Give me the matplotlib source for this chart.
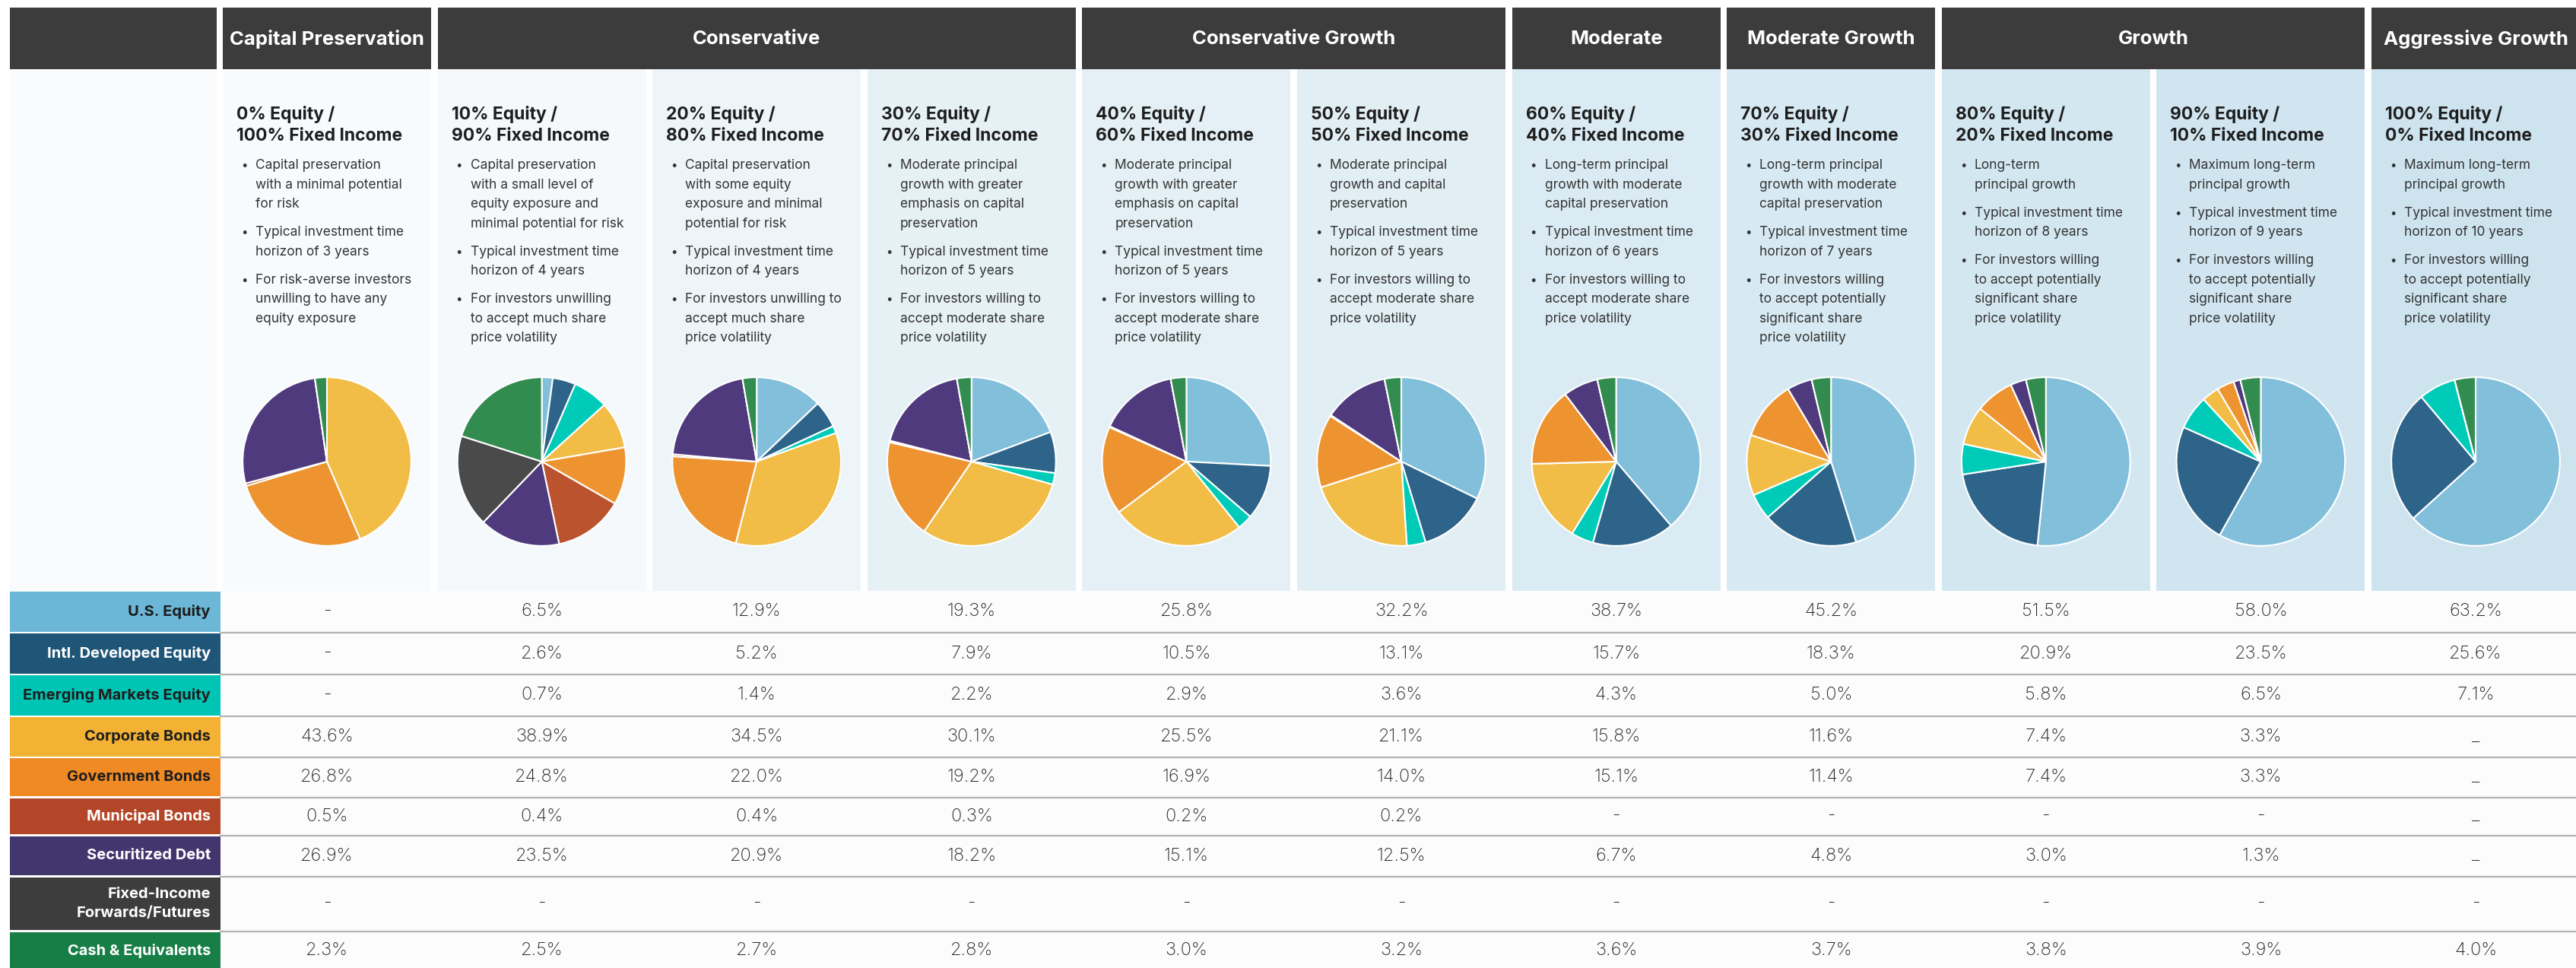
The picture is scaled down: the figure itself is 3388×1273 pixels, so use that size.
import matplotlib
matplotlib.use('Agg')
import matplotlib.pyplot as plt
from matplotlib.patches import Rectangle

plt.rcParams['font.family'] = ['Inter', 'DejaVu Sans']

# --- data ---
groups = ['Capital Preservation', 'Conservative', 'Conservative Growth', 'Moderate',
          'Moderate Growth', 'Growth', 'Aggressive Growth']
group_span = [(0, 0), (1, 3), (4, 5), (6, 6), (7, 7), (8, 9), (10, 10)]

titles = ['0% Equity /\n100% Fixed Income', '10% Equity /\n90% Fixed Income',
          '20% Equity /\n80% Fixed Income', '30% Equity /\n70% Fixed Income',
          '40% Equity /\n60% Fixed Income', '50% Equity /\n50% Fixed Income',
          '60% Equity /\n40% Fixed Income', '70% Equity /\n30% Fixed Income',
          '80% Equity /\n20% Fixed Income', '90% Equity /\n10% Fixed Income',
          '100% Equity /\n0% Fixed Income']

bullets = [
    ['Capital preservation\nwith a minimal potential\nfor risk',
     'Typical investment time\nhorizon of 3 years',
     'For risk-averse investors\nunwilling to have any\nequity exposure'],
    ['Capital preservation\nwith a small level of\nequity exposure and\nminimal potential for risk',
     'Typical investment time\nhorizon of 4 years',
     'For investors unwilling\nto accept much share\nprice volatility'],
    ['Capital preservation\nwith some equity\nexposure and minimal\npotential for risk',
     'Typical investment time\nhorizon of 4 years',
     'For investors unwilling to\naccept much share\nprice volatility'],
    ['Moderate principal\ngrowth with greater\nemphasis on capital\npreservation',
     'Typical investment time\nhorizon of 5 years',
     'For investors willing to\naccept moderate share\nprice volatility'],
    ['Moderate principal\ngrowth with greater\nemphasis on capital\npreservation',
     'Typical investment time\nhorizon of 5 years',
     'For investors willing to\naccept moderate share\nprice volatility'],
    ['Moderate principal\ngrowth and capital\npreservation',
     'Typical investment time\nhorizon of 5 years',
     'For investors willing to\naccept moderate share\nprice volatility'],
    ['Long-term principal\ngrowth with moderate\ncapital preservation',
     'Typical investment time\nhorizon of 6 years',
     'For investors willing to\naccept moderate share\nprice volatility'],
    ['Long-term principal\ngrowth with moderate\ncapital preservation',
     'Typical investment time\nhorizon of 7 years',
     'For investors willing\nto accept potentially\nsignificant share\nprice volatility'],
    ['Long-term\nprincipal growth',
     'Typical investment time\nhorizon of 8 years',
     'For investors willing\nto accept potentially\nsignificant share\nprice volatility'],
    ['Maximum long-term\nprincipal growth',
     'Typical investment time\nhorizon of 9 years',
     'For investors willing\nto accept potentially\nsignificant share\nprice volatility'],
    ['Maximum long-term\nprincipal growth',
     'Typical investment time\nhorizon of 10 years',
     'For investors willing\nto accept potentially\nsignificant share\nprice volatility'],
]

assets = ['U.S. Equity', 'Intl. Developed Equity', 'Emerging Markets Equity', 'Corporate Bonds',
          'Government Bonds', 'Municipal Bonds', 'Securitized Debt',
          'Fixed-Income\nForwards/Futures', 'Cash & Equivalents']

us_equity = ['-', '6.5%', '12.9%', '19.3%', '25.8%', '32.2%', '38.7%', '45.2%', '51.5%', '58.0%', '63.2%']
intl_equity = ['-', '2.6%', '5.2%', '7.9%', '10.5%', '13.1%', '15.7%', '18.3%', '20.9%', '23.5%', '25.6%']
em_equity = ['-', '0.7%', '1.4%', '2.2%', '2.9%', '3.6%', '4.3%', '5.0%', '5.8%', '6.5%', '7.1%']
corporate = ['43.6%', '38.9%', '34.5%', '30.1%', '25.5%', '21.1%', '15.8%', '11.6%', '7.4%', '3.3%', '_']
government = ['26.8%', '24.8%', '22.0%', '19.2%', '16.9%', '14.0%', '15.1%', '11.4%', '7.4%', '3.3%', '_']
municipal = ['0.5%', '0.4%', '0.4%', '0.3%', '0.2%', '0.2%', '-', '-', '-', '-', '_']
securitized = ['26.9%', '23.5%', '20.9%', '18.2%', '15.1%', '12.5%', '6.7%', '4.8%', '3.0%', '1.3%', '_']
fi_futures = ['-', '-', '-', '-', '-', '-', '-', '-', '-', '-', '-']
cash = ['2.3%', '2.5%', '2.7%', '2.8%', '3.0%', '3.2%', '3.6%', '3.7%', '3.8%', '3.9%', '4.0%']
table = [us_equity, intl_equity, em_equity, corporate, government, municipal,
         securitized, fi_futures, cash]

# the 10/90 pie in the source does not follow its table column
pie_10_90 = [2.1, 4.4, 6.8, 9.0, 11.0, 13.4, 15.5, 17.7, 20.1]

# --- style ---
label_colors = ['#6cb7d7', '#1f5678', '#00c4b4', '#f3b234', '#f08a25', '#b34628',
                '#43366f', '#3d3d3d', '#177e46']
label_text = ['#1e1e1e', 'white', '#1e1e1e', '#1e1e1e', '#1e1e1e', 'white', 'white', 'white', 'white']
pie_colors = ['#82bfdb', '#2e6489', '#00cbb9', '#f2bd46', '#ed9431', '#bb542e',
              '#4f3a7d', '#4a4a4a', '#338c4f']
panel_colors = ['#f8fbfd', '#f5f9fc', '#edf5f8', '#e6f1f6', '#e4f0f5', '#e1eef4',
                '#dbebf3', '#d7e9f2', '#d3e7f1', '#d0e5f0', '#cde3ee']
header_color = '#3c3c3c'

W, H = 3388, 1273
fig = plt.figure(figsize=(W / 100, H / 100), dpi=100)
fig.patch.set_facecolor('white')
ax = fig.add_axes([0, 0, 1, 1])
ax.set_xlim(0, W)
ax.set_ylim(H, 0)
ax.axis('off')

col0, pitch, cw = 293, 282.6, 274
lab_x0, lab_x1 = 13, 290
head_top, head_bot, panel_bot = 10, 91, 777
line_h = 25.4


def cleft(i):
    return col0 + i * pitch


# header bars
ax.add_patch(Rectangle((lab_x0, head_top), 285 - lab_x0, head_bot - head_top, color=header_color, lw=0))
for g, (a, b) in zip(groups, group_span):
    x0, x1 = cleft(a), cleft(b) + cw
    ax.add_patch(Rectangle((x0, head_top), x1 - x0, head_bot - head_top, color=header_color, lw=0))
    ax.text((x0 + x1) / 2, (head_top + head_bot) / 2 + 1, g, color='white', fontsize=18.5,
            fontweight='bold', ha='center', va='center')

# panels with titles and bullet text
ax.add_patch(Rectangle((lab_x0, head_bot), 285 - lab_x0, panel_bot - head_bot, color='#f9fbfd', lw=0))
for i in range(11):
    x0 = cleft(i)
    ax.add_patch(Rectangle((x0, head_bot), cw, panel_bot - head_bot, color=panel_colors[i], lw=0))
    for k, line in enumerate(titles[i].split('\n')):
        ax.text(x0 + 18, 151 + k * 28, line, fontsize=16.5, fontweight='bold', color='#1e1e1e',
                ha='left', va='center')
    y = 218
    for b in bullets[i]:
        ax.text(x0 + 24, y, '\u2022', fontsize=11, color='#333333', ha='left', va='center')
        lines = b.split('\n')
        for k, line in enumerate(lines):
            ax.text(x0 + 43, y + k * line_h, line, fontsize=12.5, color='#333333',
                    ha='left', va='center')
        y += (len(lines) - 1) * line_h + 37

# pies
pie_cy, pie_r = 607, 112
for i in range(11):
    if i == 1:
        vals = pie_10_90
    else:
        vals = []
        for row in table:
            v = row[i]
            vals.append(float(v.rstrip('%')) if v not in ('-', '_') else 0.0)
    cx = cleft(i) + cw / 2
    pax = fig.add_axes([(cx - pie_r) / W, 1 - (pie_cy + pie_r) / H, 2 * pie_r / W, 2 * pie_r / H])
    pax.pie(vals, colors=pie_colors, startangle=90, counterclock=False,
            wedgeprops=dict(edgecolor='white', linewidth=1.5))
    pax.set_xlim(-1.01, 1.01)
    pax.set_ylim(-1.01, 1.01)
    pax.set_aspect('equal')

# table
row_top = [778, 833, 888, 943, 997, 1050, 1100, 1154, 1226]
row_bot = [831, 886, 941, 995, 1047, 1097, 1151, 1223, 1275]
ax.add_patch(Rectangle((lab_x1, 777), W - lab_x1, H - 777, color='#fdfcfd', lw=0))
for r, name in enumerate(assets):
    t, b = row_top[r], row_bot[r]
    ax.add_patch(Rectangle((lab_x0, t), lab_x1 - lab_x0, b - t, color=label_colors[r], lw=0))
    ym = (t + b) / 2
    nl = name.split('\n')
    for k, line in enumerate(nl):
        ax.text(277, ym + (k - (len(nl) - 1) / 2) * 25, line, fontsize=14.5, fontweight='bold',
                color=label_text[r], ha='right', va='center')
    for i in range(11):
        ax.text(cleft(i) + cw / 2, ym, table[r][i], fontsize=17, fontweight='light',
                color='#262626', ha='center', va='center')
    if r < len(assets) - 1:
        ax.plot([lab_x1, W], [(b + row_top[r + 1]) / 2] * 2, color='#b3b3b3', lw=1.6)

fig.savefig('out.png', dpi=100, facecolor='white')
